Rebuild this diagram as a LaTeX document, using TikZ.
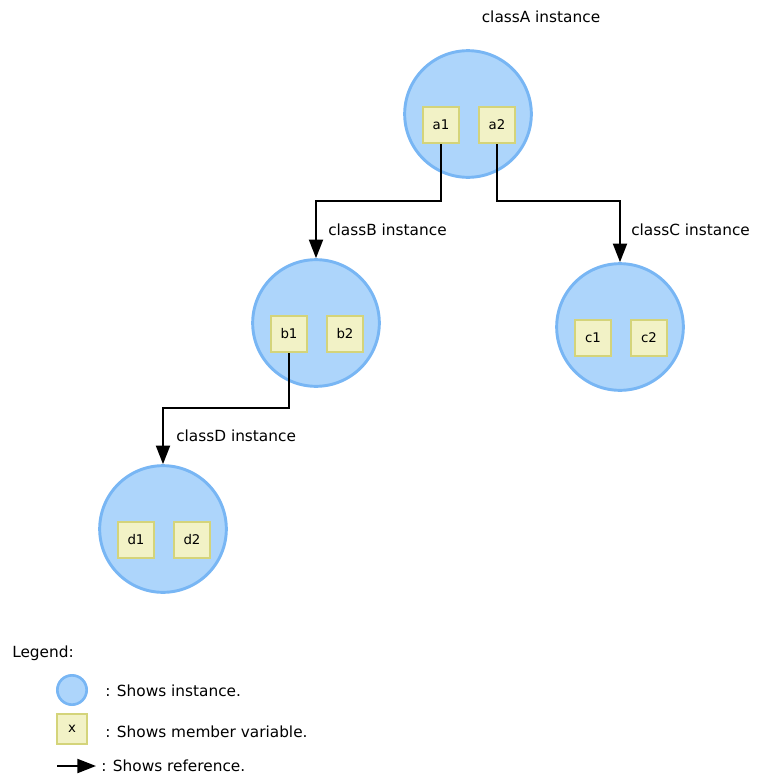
\documentclass[tikz,border=0pt]{standalone}
\usepackage{fontspec}
\setmainfont{DejaVu Sans}
\usepackage{tikz}
\usetikzlibrary{arrows.meta,positioning,calc}
\definecolor{instfill}{HTML}{ADD5FB}
\definecolor{instline}{HTML}{78B6F4}
\definecolor{memfill}{HTML}{F2F2C6}
\definecolor{memline}{HTML}{D4D47A}
\begin{document}
\begin{tikzpicture}[x=0.75pt,y=-0.75pt,
 inst/.style={circle,fill=instfill,draw=instline,line width=2.2pt,minimum size=95pt,inner sep=0pt},
 member/.style={rectangle,fill=memfill,draw=memline,line width=1.4pt,minimum size=27.5pt,inner sep=0pt,font=\fontsize{10}{12}\selectfont},
 ref/.style={-{Triangle[length=14pt,width=10.5pt]},line width=1.6pt},
 txt/.style={font=\fontsize{11.5}{14}\selectfont,inner sep=0pt}]
\useasboundingbox (0,0) rectangle (757,778);
% instances with their member variables
\foreach \n/\m/\x/\y in {A/a/468/114,B/b/316/323,C/c/620/327,D/d/163/529}{
 \node[inst] (inst\n) at (\x,\y){};
 \node[member] (\m1) at (\x-27,\y+11){\m1};
 \node[member] (\m2) at (\x+29,\y+11){\m2};}
\node[txt] (labA) at (541,17){classA instance};
\node[txt,anchor=west] (labB) at (328,230){classB instance};
\node[txt,anchor=west] (labC) at (631,230){classC instance};
\node[txt,anchor=west] (labD) at (176,436){classD instance};
% references
\coordinate (bendA) at (0,201);
\coordinate (bendB) at (0,408);
\draw[ref] (a1.south) -- (a1.south |- bendA) -| (instB.north);
\draw[ref] (a2.south) -- (a2.south |- bendA) -| (instC.north);
\draw[ref] (b1.south) -- (b1.south |- bendB) -| (instD.north);
% legend
\node[txt,anchor=west] (legend) at (12,653){Legend:};
\node[inst,minimum size=22pt,line width=2pt] (legInst) at (72,690){};
\node[txt,anchor=west] (legInstTxt) at (105,691){: Shows instance.};
\node[member,minimum size=22pt] (legMem) at (72,729){x};
\coordinate (legS) at (57,766);
\coordinate (legE) at (96,766);
\node[txt,anchor=west] (legMemTxt) at (105,732){: Shows member variable.};
\draw[ref] (legS) -- (legE);
\node[txt,anchor=west] (legRefTxt) at (101,766){: Shows reference.};
\end{tikzpicture}
\end{document}
